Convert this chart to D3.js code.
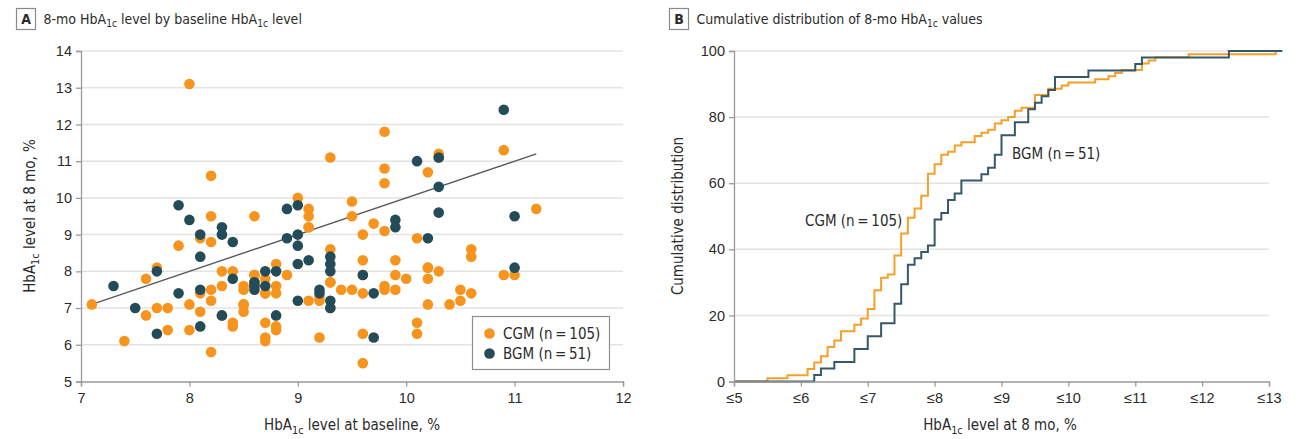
<!DOCTYPE html>
<html>
<head>
<meta charset="utf-8">
<script src="https://cdn.jsdelivr.net/npm/d3@7"></script>
<style>
  body { margin: 0; background: #fff; }
  svg { display: block; font-family: "Liberation Sans Narrow", "DejaVu Sans Condensed", "Arial Narrow", sans-serif; }
</style>
</head>
<body>
<svg id="chart" width="1309" height="439"></svg>
<script>
// ---- Data: HbA1c (%) at baseline and at 8 months, per participant ----
const cgmBaseline = [
  7.1, 7.4, 7.6, 7.6, 7.7, 7.7, 7.8, 7.8, 7.9, 8.0,
  8.0, 8.0, 8.1, 8.1, 8.1, 8.2, 8.2, 8.2, 8.2, 8.2,
  8.2, 8.3, 8.3, 8.3, 8.4, 8.4, 8.4, 8.5, 8.5, 8.5,
  8.5, 8.5, 8.6, 8.6, 8.6, 8.6, 8.6, 8.7, 8.7, 8.7,
  8.7, 8.7, 8.7, 8.8, 8.8, 8.8, 8.8, 8.8, 8.9, 9.0,
  9.1, 9.1, 9.1, 9.1, 9.1, 9.2, 9.2, 9.2, 9.3, 9.3,
  9.3, 9.3, 9.3, 9.4, 9.5, 9.5, 9.5, 9.6, 9.6, 9.6,
  9.6, 9.6, 9.6, 9.7, 9.8, 9.8, 9.8, 9.8, 9.8, 9.8,
  9.9, 9.9, 9.9, 10.0, 10.1, 10.1, 10.1, 10.2, 10.2, 10.2,
  10.2, 10.2, 10.3, 10.3, 10.3, 10.4, 10.5, 10.5, 10.6, 10.6,
  10.6, 10.9, 10.9, 11.0, 11.2
];
const cgm8mo = [
  7.1, 6.1, 7.8, 6.8, 8.1, 7.0, 7.0, 6.4, 8.7, 13.1,
  7.1, 6.4, 8.9, 7.4, 6.9, 10.6, 9.5, 8.8, 7.5, 7.2,
  5.8, 8.0, 7.6, 6.8, 8.0, 6.6, 6.5, 7.6, 7.5, 7.1,
  7.1, 6.9, 9.5, 7.9, 7.9, 7.7, 7.6, 7.8, 7.4, 7.4,
  6.6, 6.2, 6.1, 8.2, 7.6, 7.4, 6.5, 6.4, 7.9, 10.0,
  9.7, 9.5, 9.2, 9.2, 7.2, 7.3, 7.2, 6.2, 11.1, 8.6,
  7.7, 7.7, 7.0, 7.5, 9.9, 9.5, 7.5, 9.0, 8.3, 7.9,
  7.4, 6.3, 5.5, 9.3, 11.8, 10.8, 10.4, 9.1, 7.6, 7.5,
  8.3, 7.9, 7.5, 7.8, 8.9, 6.6, 6.3, 10.7, 8.1, 8.1,
  7.8, 7.1, 11.2, 11.1, 8.0, 7.1, 7.5, 7.2, 8.6, 8.4,
  7.4, 11.3, 7.9, 7.9, 9.7
];
const bgmBaseline = [
  7.3, 7.5, 7.7, 7.7, 7.9, 7.9, 8.0, 8.1, 8.1, 8.1,
  8.1, 8.3, 8.3, 8.3, 8.4, 8.4, 8.6, 8.6, 8.6, 8.7,
  8.7, 8.8, 8.8, 8.9, 8.9, 9.0, 9.0, 9.0, 9.0, 9.0,
  9.1, 9.2, 9.2, 9.3, 9.3, 9.3, 9.3, 9.3, 9.6, 9.7,
  9.7, 9.9, 9.9, 10.1, 10.2, 10.3, 10.3, 10.3, 10.9, 11.0,
  11.0
];
const bgm8mo = [
  7.6, 7.0, 8.0, 6.3, 9.8, 7.4, 9.4, 9.0, 8.4, 7.5,
  6.5, 9.2, 9.0, 6.8, 8.8, 7.8, 7.7, 7.6, 7.5, 8.0,
  7.6, 8.0, 6.8, 9.7, 8.9, 9.8, 9.0, 8.7, 8.2, 7.2,
  8.3, 7.5, 7.4, 8.4, 8.2, 8.0, 7.2, 7.0, 7.9, 7.4,
  6.2, 9.4, 9.2, 11.0, 8.9, 11.1, 10.3, 9.6, 12.4, 9.5,
  8.1
];

// Group labels and sizes
const groupNames = ["CGM", "BGM"];
const groupSizes = [105, 51];

// Tick values
const scatterXTicks = [7, 8, 9, 10, 11, 12];
const scatterYTicks = [5, 6, 7, 8, 9, 10, 11, 12, 13, 14];
const cdfXTicks = [5, 6, 7, 8, 9, 10, 11, 12, 13];
const cdfXTickLabels = ["≤5", "≤6", "≤7", "≤8", "≤9", "≤10", "≤11", "≤12", "≤13"];
const cdfYTicks = [0, 20, 40, 60, 80, 100];

// ---- Styling ----
const COLORS = { CGM: "#F7941D", BGM: "#234B58" };
const LINE_COLORS = { CGM: "#F5A02A", BGM: "#35596A" };
const AXIS_COLOR = "#9a9a9a";
const GRID_COLOR = "#e3e3e3";
const TEXT_COLOR = "#2b2b2b";

const svg = d3.select("#chart");

// Writes text runs where some runs are subscripts (e.g. HbA1c)
function richText(sel, parts, size) {
  let lowered = false;
  parts.forEach(([str, sub]) => {
    const t = sel.append("tspan").text(str);
    if (sub) {
      t.attr("font-size", size * 0.72).attr("dy", size * 0.28);
      lowered = true;
    } else if (lowered) {
      t.attr("dy", -size * 0.28);
      lowered = false;
    }
  });
  return sel;
}

function panelTitle(x, letter, parts) {
  const g = svg.append("g");
  g.append("rect").attr("x", x).attr("y", 8.5).attr("width", 19).attr("height", 21)
    .attr("fill", "#fff").attr("stroke", "#8a8a8a").attr("stroke-width", 1.2);
  g.append("text").attr("x", x + 9.5).attr("y", 24).attr("text-anchor", "middle")
    .attr("font-size", 14).attr("font-weight", "bold").attr("fill", TEXT_COLOR).text(letter);
  const t = g.append("text").attr("x", x + 27).attr("y", 23.5)
    .attr("font-size", 14).attr("fill", TEXT_COLOR);
  richText(t, parts, 14);
}

function styleAxis(g) {
  g.select(".domain").attr("stroke", AXIS_COLOR).attr("stroke-width", 1.3);
  g.selectAll(".tick line").attr("stroke", AXIS_COLOR).attr("stroke-width", 1.3);
  g.selectAll(".tick text").attr("fill", TEXT_COLOR).attr("font-size", 14.5)
    .attr("font-family", null);
}

// ================= Panel A: scatter =================
const xA = d3.scaleLinear().domain([7, 12]).range([81, 623]);
const yA = d3.scaleLinear().domain([5, 14]).range([381.5, 51]);

panelTitle(16.5, "A", [["8-mo HbA", false], ["1c", true], [" level by baseline HbA", false], ["1c", true], [" level", false]]);

svg.append("g").selectAll("line")
  .data(scatterYTicks.filter(d => d > 5))
  .join("line")
  .attr("x1", xA(7)).attr("x2", xA(12))
  .attr("y1", d => yA(d)).attr("y2", d => yA(d))
  .attr("stroke", GRID_COLOR).attr("stroke-width", 1.5);

// identity reference line across the range of baseline values
const allBaseline = cgmBaseline.concat(bgmBaseline);
const [bMin, bMax] = d3.extent(allBaseline);
svg.append("line")
  .attr("x1", xA(bMin)).attr("y1", yA(bMin))
  .attr("x2", xA(bMax)).attr("y2", yA(bMax))
  .attr("stroke", "#5a5a5a").attr("stroke-width", 1.4);

const cgmPts = cgmBaseline.map((b, i) => ({ b, v: cgm8mo[i] }));
const bgmPts = bgmBaseline.map((b, i) => ({ b, v: bgm8mo[i] }));

svg.append("g").selectAll("circle").data(cgmPts).join("circle")
  .attr("cx", d => xA(d.b)).attr("cy", d => yA(d.v)).attr("r", 5.3)
  .attr("fill", COLORS.CGM);
svg.append("g").selectAll("circle").data(bgmPts).join("circle")
  .attr("cx", d => xA(d.b)).attr("cy", d => yA(d.v)).attr("r", 5.3)
  .attr("fill", COLORS.BGM);

const axAx = svg.append("g").attr("transform", `translate(0,${yA(5)})`)
  .call(d3.axisBottom(xA).tickValues(scatterXTicks).tickSize(5).tickPadding(6).tickFormat(d3.format("d")));
styleAxis(axAx);
const axAy = svg.append("g").attr("transform", `translate(${xA(7)},0)`)
  .call(d3.axisLeft(yA).tickValues(scatterYTicks).tickSize(5).tickPadding(4).tickFormat(d3.format("d")));
styleAxis(axAy);

// Axis titles
richText(svg.append("text").attr("x", 352).attr("y", 430).attr("text-anchor", "middle")
  .attr("font-size", 15).attr("fill", TEXT_COLOR),
  [["HbA", false], ["1c", true], [" level at baseline, %", false]], 15);
richText(svg.append("text").attr("transform", "translate(35,216) rotate(-90)").attr("text-anchor", "middle")
  .attr("font-size", 15).attr("fill", TEXT_COLOR),
  [["HbA", false], ["1c", true], [" level at 8 mo, %", false]], 15);

// Legend
const leg = svg.append("g");
leg.append("rect").attr("x", 472.5).attr("y", 316.5).attr("width", 137).attr("height", 53)
  .attr("fill", "#fff").attr("stroke", "#8f8f8f").attr("stroke-width", 1.2);
groupNames.forEach((name, i) => {
  const cy = 333.5 + i * 20;
  leg.append("circle").attr("cx", 489.5).attr("cy", cy).attr("r", 5.3).attr("fill", COLORS[name]);
  leg.append("text").attr("x", 503).attr("y", cy + 5).attr("font-size", 15).attr("fill", TEXT_COLOR)
    .text(`${name} (n\u2009=\u2009${groupSizes[i]})`);
});

// ================= Panel B: cumulative distribution =================
const xB = d3.scaleLinear().domain([5, 13]).range([734, 1269]);
const yB = d3.scaleLinear().domain([0, 100]).range([381.5, 51]);

panelTitle(669.5, "B", [["Cumulative distribution of 8-mo HbA", false], ["1c", true], [" values", false]]);

svg.append("g").selectAll("line")
  .data(cdfYTicks.filter(d => d > 0))
  .join("line")
  .attr("x1", xB(5)).attr("x2", xB(13))
  .attr("y1", d => yB(d)).attr("y2", d => yB(d))
  .attr("stroke", GRID_COLOR).attr("stroke-width", 1.5);

// Empirical CDF (percent) of 8-month values, as step points
function ecdfPoints(values, start, end) {
  const sorted = values.slice().sort(d3.ascending);
  const n = sorted.length;
  const pts = [{ x: start, y: 0 }];
  const uniq = Array.from(new Set(sorted));
  uniq.forEach(u => {
    const count = d3.bisectRight(sorted, u);
    pts.push({ x: u, y: 100 * count / n });
  });
  if (end > uniq[uniq.length - 1]) pts.push({ x: end, y: 100 });
  return pts;
}

const stepLine = d3.line().x(d => xB(d.x)).y(d => yB(d.y)).curve(d3.curveStepAfter);
const cdfEnd = 13.2;
const cdfSeries = [
  { name: "CGM", pts: ecdfPoints(cgm8mo, 5, d3.max(cgm8mo)) },
  { name: "BGM", pts: ecdfPoints(bgm8mo, 5, cdfEnd) }
];
svg.append("g").selectAll("path").data(cdfSeries).join("path")
  .attr("d", d => stepLine(d.pts))
  .attr("fill", "none")
  .attr("stroke", d => LINE_COLORS[d.name])
  .attr("stroke-width", 2);

const axBx = svg.append("g").attr("transform", `translate(0,${yB(0)})`)
  .call(d3.axisBottom(xB).tickValues(cdfXTicks).tickSize(5).tickPadding(6)
    .tickFormat((d, i) => cdfXTickLabels[i]));
styleAxis(axBx);
const axBy = svg.append("g").attr("transform", `translate(${xB(5)},0)`)
  .call(d3.axisLeft(yB).tickValues(cdfYTicks).tickSize(5).tickPadding(4));
styleAxis(axBy);

svg.append("text").attr("x", 805).attr("y", 226).attr("font-size", 15).attr("fill", TEXT_COLOR)
  .text(`${groupNames[0]} (n\u2009=\u2009${groupSizes[0]})`);
svg.append("text").attr("x", 1012).attr("y", 159).attr("font-size", 15).attr("fill", TEXT_COLOR)
  .text(`${groupNames[1]} (n\u2009=\u2009${groupSizes[1]})`);

richText(svg.append("text").attr("x", 1000).attr("y", 430).attr("text-anchor", "middle")
  .attr("font-size", 15).attr("fill", TEXT_COLOR),
  [["HbA", false], ["1c", true], [" level at 8 mo, %", false]], 15);
svg.append("text").attr("transform", "translate(683,216) rotate(-90)").attr("text-anchor", "middle")
  .attr("font-size", 15).attr("fill", TEXT_COLOR).text("Cumulative distribution");
</script>
</body>
</html>
